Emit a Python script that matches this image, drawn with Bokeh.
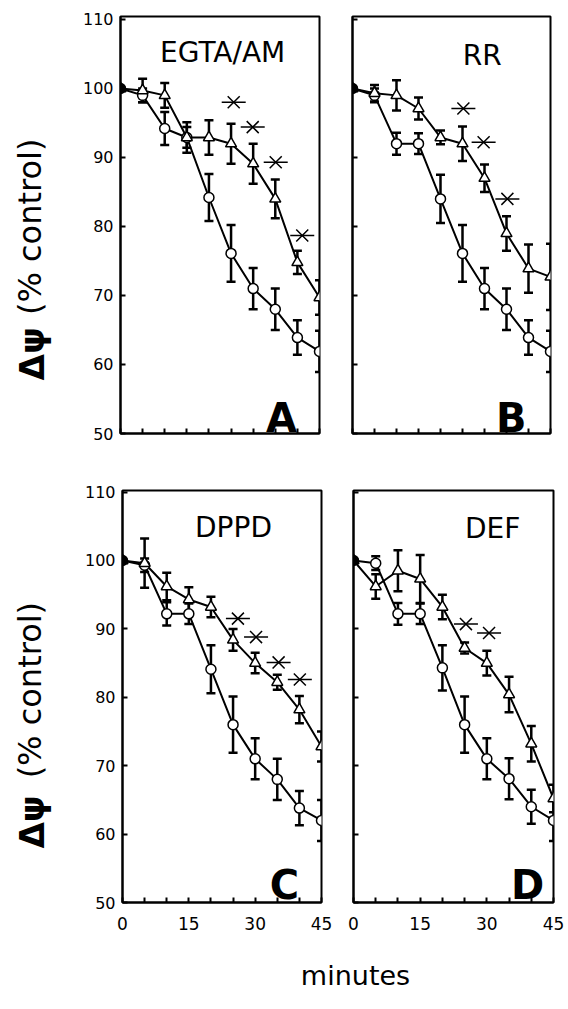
import math
from bokeh.plotting import figure
from bokeh.layouts import row, column
from bokeh.models import Range1d, FixedTicker, Whisker, TeeHead, ColumnDataSource
from bokeh.core.properties import value
from bokeh.embed import file_html
from bokeh.resources import INLINE

# ---------------- data ----------------
minutes = [0, 5, 10, 15, 20, 25, 30, 35, 40, 45]

panel_names = ["EGTA/AM", "RR", "DPPD", "DEF"]
panel_letters = ["A", "B", "C", "D"]

control_A = [100, 99.0, 94.2, 92.9, 84.2, 76.1, 71.0, 68.0, 63.9, 61.9]
control_err_A = [0, 1.0, 2.4, 1.5, 3.4, 4.1, 3.0, 3.0, 2.5, 3.0]
treated_A = [100, 99.7, 99.0, 92.9, 92.9, 92.0, 89.1, 84.0, 74.8, 69.7]
treated_err_A = [0, 1.7, 1.8, 2.2, 2.5, 2.9, 2.9, 2.8, 1.7, 2.5]
star_min_A = [25.6, 29.9, 35.1, 41.1]
star_val_A = [98.0, 94.4, 89.3, 78.7]

control_B = [100, 99.0, 92.0, 92.0, 84.0, 76.1, 71.0, 68.0, 63.9, 61.9]
control_err_B = [0, 1.0, 1.6, 1.5, 3.5, 4.1, 3.0, 3.0, 2.5, 3.0]
treated_B = [100, 99.3, 99.0, 97.1, 92.9, 92.0, 87.0, 79.0, 73.9, 72.7]
treated_err_B = [0, 1.2, 2.2, 1.6, 1.0, 2.5, 2.0, 2.5, 3.5, 4.8]
star_min_B = [25.2, 29.8, 35.2]
star_val_B = [97.1, 92.2, 84.0]

control_C = [100, 99.3, 92.2, 92.2, 84.1, 76.0, 71.0, 68.0, 63.8, 62.0]
control_err_C = [0, 1.0, 1.7, 1.5, 3.5, 4.1, 3.0, 3.0, 2.5, 3.0]
treated_C = [100, 99.6, 96.2, 94.3, 93.2, 88.4, 85.0, 82.2, 78.2, 72.8]
treated_err_C = [0, 3.6, 2.0, 1.8, 1.5, 1.6, 1.5, 1.1, 2.0, 2.2]
star_min_C = [26.1, 30.2, 35.3, 40.1]
star_val_C = [91.5, 88.8, 85.1, 82.6]

control_D = [100, 99.6, 92.2, 92.2, 84.3, 76.0, 71.0, 68.1, 64.0, 62.0]
control_err_D = [0, 1.0, 1.6, 1.5, 3.3, 4.1, 3.0, 3.0, 2.5, 3.0]
treated_D = [100, 96.2, 98.5, 97.3, 93.2, 87.2, 85.0, 80.4, 73.2, 65.2]
treated_err_D = [0, 1.8, 3.0, 3.5, 1.8, 0.8, 1.8, 2.6, 2.6, 2.0]
star_min_D = [25.3, 30.5]
star_val_D = [90.7, 89.4]

x_ticks = [0, 5, 10, 15, 20, 25, 30, 35, 40, 45]
x_tick_labels = ["0", "", "", "15", "", "", "30", "", "", "45"]
y_ticks = [50, 60, 70, 80, 90, 100, 110]
y_label_symbol = "Δψ"
y_label_text = "(% control)"
x_label_text = "minutes"

FONT = "DejaVu Sans"


def make_panel(name, letter, ctrl, ctrl_err, trt, trt_err, sx, sy, g):
    p = figure(width=g["w"], height=g["h"],
               x_range=Range1d(minutes[0], minutes[-1]),
               y_range=Range1d(y_ticks[0], g["ytop"]),
               output_backend="svg", toolbar_location=None,
               min_border_left=g["bl"], min_border_right=g["br"],
               min_border_top=g["bt"], min_border_bottom=g["bb"])
    p.xgrid.visible = False
    p.ygrid.visible = False
    p.outline_line_color = "black"
    p.outline_line_width = 2
    p.background_fill_color = "white"
    p.border_fill_color = "white"

    for ax in (p.xaxis[0], p.yaxis[0]):
        ax.axis_line_color = "black"
        ax.axis_line_width = 2
        ax.major_tick_in = 5
        ax.major_tick_out = 0
        ax.major_tick_line_width = 2
        ax.major_tick_line_color = "black"
        ax.minor_tick_line_color = None
        ax.major_label_text_font = FONT
        ax.major_label_text_color = "black"
    p.xaxis.ticker = FixedTicker(ticks=x_ticks)
    p.yaxis.ticker = FixedTicker(ticks=y_ticks)
    if g["xlab"]:
        p.xaxis.major_label_overrides = {t: l for t, l in zip(x_ticks, x_tick_labels)}
        p.xaxis.major_label_text_font_size = "17px"
        p.xaxis.major_label_standoff = 14
    else:
        p.xaxis.major_label_overrides = {t: "" for t in x_ticks}
        p.xaxis.major_label_standoff = 0
    if g["ylab"]:
        p.yaxis.major_label_text_font_size = "16px"
        p.yaxis.major_label_standoff = 7
    else:
        p.yaxis.major_label_overrides = {t: "" for t in y_ticks}
        p.yaxis.major_label_standoff = 0

    # lines
    p.line(minutes, ctrl, line_color="black", line_width=2)
    p.line(minutes, trt, line_color="black", line_width=2)

    # error bars
    for vals, errs in ((ctrl, ctrl_err), (trt, trt_err)):
        bx = [m for m, e in zip(minutes, errs) if e > 0]
        lo = [v - e for v, e in zip(vals, errs) if e > 0]
        hi = [v + e for v, e in zip(vals, errs) if e > 0]
        src = ColumnDataSource(dict(base=bx, lower=lo, upper=hi))
        w = Whisker(base="base", lower="lower", upper="upper", source=src, dimension="height",
                    line_color="black", line_width=2.5, level="underlay",
                    upper_head=TeeHead(size=9, line_width=2.5, line_color="black"),
                    lower_head=TeeHead(size=9, line_width=2.5, line_color="black"))
        p.add_layout(w)

    fills = ["black"] + ["white"] * (len(minutes) - 1)
    p.scatter(minutes, ctrl, marker="circle", size=10, fill_color=fills,
              line_color="black", line_width=1.5)
    p.scatter(minutes, trt, marker="triangle", size=11, fill_color=fills,
              line_color="black", line_width=1.5)

    # significance stars
    p.scatter(sx, sy, marker="x", size=17, line_color="black", line_width=1.5)
    p.scatter(sx, sy, marker="dash", size=24, line_color="black", line_width=1.5)

    p.text(x=[g["tx"]], y=[g["ty"]], text=[name], text_font=value(FONT),
           text_font_size="28px", text_align="center", text_baseline="alphabetic",
           text_color="black")
    p.text(x=[g["lx"]], y=[g["ly"]], text=[letter], text_font=value(FONT),
           text_font_size="40px", text_font_style="bold", text_align="center",
           text_baseline="alphabetic", text_color="black")
    return p


gA = dict(w=268, h=460, bl=52, br=17, bt=16, bb=27, ytop=110.43, xlab=False, ylab=True,
          tx=23.1, ty=105.2, lx=36.4, ly=52.3)
gB = dict(w=232, h=460, bl=16, br=18, bt=16, bb=27, ytop=110.43, xlab=False, ylab=False,
          tx=29.5, ty=104.8, lx=36.1, ly=52.3)
gC = dict(w=268, h=485, bl=54, br=15, bt=30, bb=43, ytop=110.23, xlab=True, ylab=True,
          tx=25.1, ty=104.8, lx=36.6, ly=52.5)
gD = dict(w=232, h=485, bl=17, br=15, bt=30, bb=43, ytop=110.23, xlab=True, ylab=False,
          tx=31.3, ty=104.7, lx=39.2, ly=52.5)

pA = make_panel(panel_names[0], panel_letters[0], control_A, control_err_A, treated_A,
                treated_err_A, star_min_A, star_val_A, gA)
pB = make_panel(panel_names[1], panel_letters[1], control_B, control_err_B, treated_B,
                treated_err_B, star_min_B, star_val_B, gB)
pC = make_panel(panel_names[2], panel_letters[2], control_C, control_err_C, treated_C,
                treated_err_C, star_min_C, star_val_C, gC)
pD = make_panel(panel_names[3], panel_letters[3], control_D, control_err_D, treated_D,
                treated_err_D, star_min_D, star_val_D, gD)


def blank(w, h):
    f = figure(width=w, height=h, x_range=Range1d(0, w), y_range=Range1d(0, h),
               output_backend="svg", toolbar_location=None, min_border=0)
    f.axis.visible = False
    f.xgrid.visible = False
    f.ygrid.visible = False
    f.outline_line_color = None
    f.background_fill_color = "white"
    f.border_fill_color = "white"
    return f


def ylabel_fig(h, y_text, y_sym):
    f = blank(68, h)
    f.text(x=[29], y=[y_text], text=[y_label_text], angle=math.pi / 2,
           text_font=value(FONT), text_font_size="32px", text_align="center",
           text_baseline="middle", text_color="black")
    f.text(x=[31], y=[y_sym], text=[y_label_symbol], angle=math.pi / 2,
           text_font=value(FONT), text_font_size="34px", text_font_style="bold",
           text_align="center", text_baseline="middle", text_color="black")
    return f


lab_top = ylabel_fig(460, 228, 88)
lab_bot = ylabel_fig(485, 250, 95)

mfig = blank(568, 56)
mfig.text(x=[355], y=[26], text=[x_label_text], text_font=value(FONT), text_font_size="27px",
          text_align="center", text_baseline="middle", text_color="black")

layout = column(row(lab_top, pA, pB), row(lab_bot, pC, pD), mfig)

open("out.html", "w").write(file_html(layout, INLINE))
